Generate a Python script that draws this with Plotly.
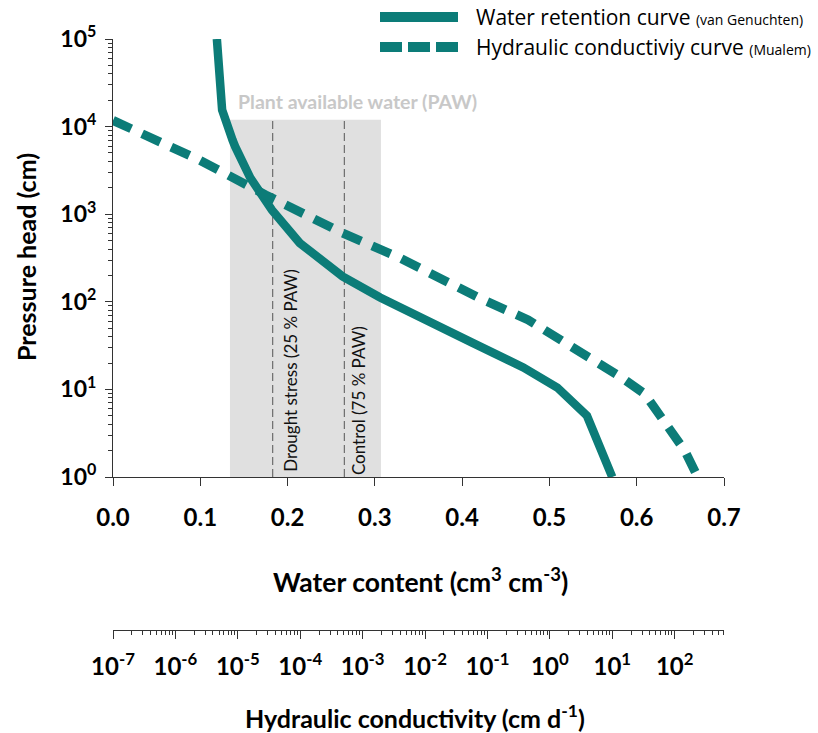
import plotly.graph_objects as go

# Water retention curve (van Genuchten): water content vs pressure head
theta_wrc = [0.119, 0.121, 0.125, 0.137, 0.140, 0.157, 0.182, 0.214, 0.263,
             0.306, 0.355, 0.412, 0.470, 0.509, 0.543, 0.572]
head_wrc = [100000, 48000, 15500, 7000, 5900, 2630, 1120, 468, 195,
            112, 66, 34, 17.8, 10.5, 5.0, 1.0]

# Hydraulic conductivity curve (Mualem): conductivity vs pressure head
k_hcc = [1e-7, 2.4e-6, 2.8e-5, 4.6e-4, 3.7e-3, 0.071, 0.45, 2.8, 13.8,
         33, 60, 145, 234]
head_hcc = [11750, 4170, 1660, 617, 324, 112, 62, 28, 13.8, 8.9, 4.8, 2.0, 1.0]

# Plant available water band and treatment levels
paw_theta = [0.134, 0.307]
paw_head = [1, 12000]
treat_theta = [0.183, 0.265]
treat_labels = ["Drought stress (25 % PAW)", "Control (75 % PAW)"]

# Axis ticks
theta_ticks = [0.0, 0.1, 0.2, 0.3, 0.4, 0.5, 0.6, 0.7]
head_ticks = [1, 10, 100, 1000, 10000, 100000]
head_exps = [0, 1, 2, 3, 4, 5]
k_ticks = [1e-7, 1e-6, 1e-5, 1e-4, 1e-3, 1e-2, 1e-1, 1, 10, 100]
k_exps = [-7, -6, -5, -4, -3, -2, -1, 0, 1, 2]

TEAL = "#0c7c78"
AXIS = "#333333"
FONT = "Lato"

fig = go.Figure()

# PAW shaded band
fig.add_trace(go.Scatter(
    x=[paw_theta[0], paw_theta[1], paw_theta[1], paw_theta[0], paw_theta[0]],
    y=[paw_head[0], paw_head[0], paw_head[1], paw_head[1], paw_head[0]],
    fill="toself", fillcolor="#e0e0e0", mode="lines",
    line=dict(width=0), hoverinfo="skip", showlegend=False,
))

# Treatment levels
for t in treat_theta:
    fig.add_trace(go.Scatter(
        x=[t, t], y=paw_head, mode="lines",
        line=dict(color="#555555", width=1, dash="8px,4px"),
        hoverinfo="skip", showlegend=False,
    ))

fig.add_trace(go.Scatter(
    x=theta_wrc, y=head_wrc, mode="lines",
    line=dict(color=TEAL, width=8.5),
    name="Water retention curve", showlegend=False,
))

fig.add_trace(go.Scatter(
    x=k_hcc, y=head_hcc, xaxis="x2", yaxis="y", mode="lines",
    line=dict(color=TEAL, width=9, dash="20px,12px"),
    name="Hydraulic conductiviy curve", showlegend=False,
))

fig.update_layout(
    width=818, height=733,
    margin=dict(l=113, r=94, t=39, b=103),
    paper_bgcolor="white", plot_bgcolor="white",
    showlegend=False,
    xaxis=dict(
        range=[0, 0.7], domain=[0, 1], anchor="y",
        tickmode="array", tickvals=theta_ticks,
        ticktext=[f"{v:.1f}" for v in theta_ticks],
        ticks="outside", ticklen=8, tickcolor=AXIS,
        showline=True, linecolor=AXIS, linewidth=1,
        showgrid=False, zeroline=False,
        tickfont=dict(family=FONT, size=24, color="black", weight="bold"),
        ticklabelstandoff=11,
    ),
    xaxis2=dict(
        type="log", range=[-7, 2.79], overlaying="x",
        anchor="free", position=0, side="bottom",
        tickmode="array", tickvals=k_ticks,
        ticktext=[f"10<sup>{e}</sup>" for e in k_exps],
        ticks="outside", ticklen=8, tickcolor=AXIS,
        minor=dict(tickmode="linear", dtick="D1", ticks="outside",
                   ticklen=4, tickcolor=AXIS, showgrid=False),
        showline=True, linecolor=AXIS, linewidth=1,
        showgrid=False, zeroline=False,
        tickfont=dict(family=FONT, size=24, color="black", weight="bold"),
        ticklabelstandoff=7,
    ),
    yaxis=dict(
        type="log", range=[0, 5], domain=[(630 - 477) / 591, 1],
        tickmode="array", tickvals=head_ticks,
        ticktext=[f"10<sup>{e}</sup>" for e in head_exps],
        ticks="outside", ticklen=7, tickcolor=AXIS,
        minor=dict(tickmode="linear", dtick="D1", ticks="outside",
                   ticklen=4, tickcolor=AXIS, showgrid=False),
        showline=True, linecolor=AXIS, linewidth=1,
        showgrid=False, zeroline=False,
        tickfont=dict(family=FONT, size=23, color="black", weight="bold"),
        ticklabelstandoff=4,
    ),
)

def px_x(px):
    return (px - 113) / 611

def px_y(py):
    return (630 - py) / 591

annotations = [
    dict(text="Pressure head (cm)", x=px_x(26), y=px_y(257), textangle=-90,
         font=dict(family=FONT, size=25, color="black", weight="bold")),
    dict(text="Water content (cm<sup>3</sup> cm<sup>-3</sup>)",
         x=px_x(420), y=px_y(580),
         font=dict(family=FONT, size=26.5, color="black", weight="bold")),
    dict(text="Hydraulic conductivity (cm d<sup>-1</sup>)",
         x=px_x(415), y=px_y(716),
         font=dict(family=FONT, size=25, color="black", weight="bold")),
    dict(text="Plant available water (PAW)", x=px_x(236), y=px_y(101),
         xanchor="left", font=dict(family=FONT, size=19.5, color="#c8c8c8",
                                   weight="bold")),
    dict(text="Water retention curve <span style='font-size:14px'>(van Genuchten)</span>",
         x=px_x(474), y=px_y(17), xanchor="left",
         font=dict(family="Open Sans", size=21, color="black")),
    dict(text="Hydraulic conductiviy curve <span style='font-size:14px'>(Mualem)</span>",
         x=px_x(474), y=px_y(47), xanchor="left",
         font=dict(family="Open Sans", size=21, color="black")),
]
for a in annotations:
    a.setdefault("xanchor", "center")
    a.update(xref="paper", yref="paper", yanchor="middle", showarrow=False)

# Treatment labels, rotated beside their reference lines
for t, lab, yc, shift in zip(treat_theta, treat_labels, [1.22, 0.87], [17, 14]):
    annotations.append(dict(
        text=lab, x=t, y=yc, xref="x", yref="y", xshift=shift,
        textangle=-90, showarrow=False, xanchor="center", yanchor="middle",
        font=dict(family=FONT, size=17, color="#111111"),
    ))

fig.update_layout(annotations=annotations)

# Legend keys
fig.add_shape(type="line", xref="paper", yref="paper",
              x0=px_x(380), x1=px_x(458), y0=px_y(17), y1=px_y(17),
              line=dict(color=TEAL, width=10))
fig.add_shape(type="line", xref="paper", yref="paper",
              x0=px_x(380), x1=px_x(458), y0=px_y(47), y1=px_y(47),
              line=dict(color=TEAL, width=10, dash="22px,6px"))

fig.write_html("out.html")
